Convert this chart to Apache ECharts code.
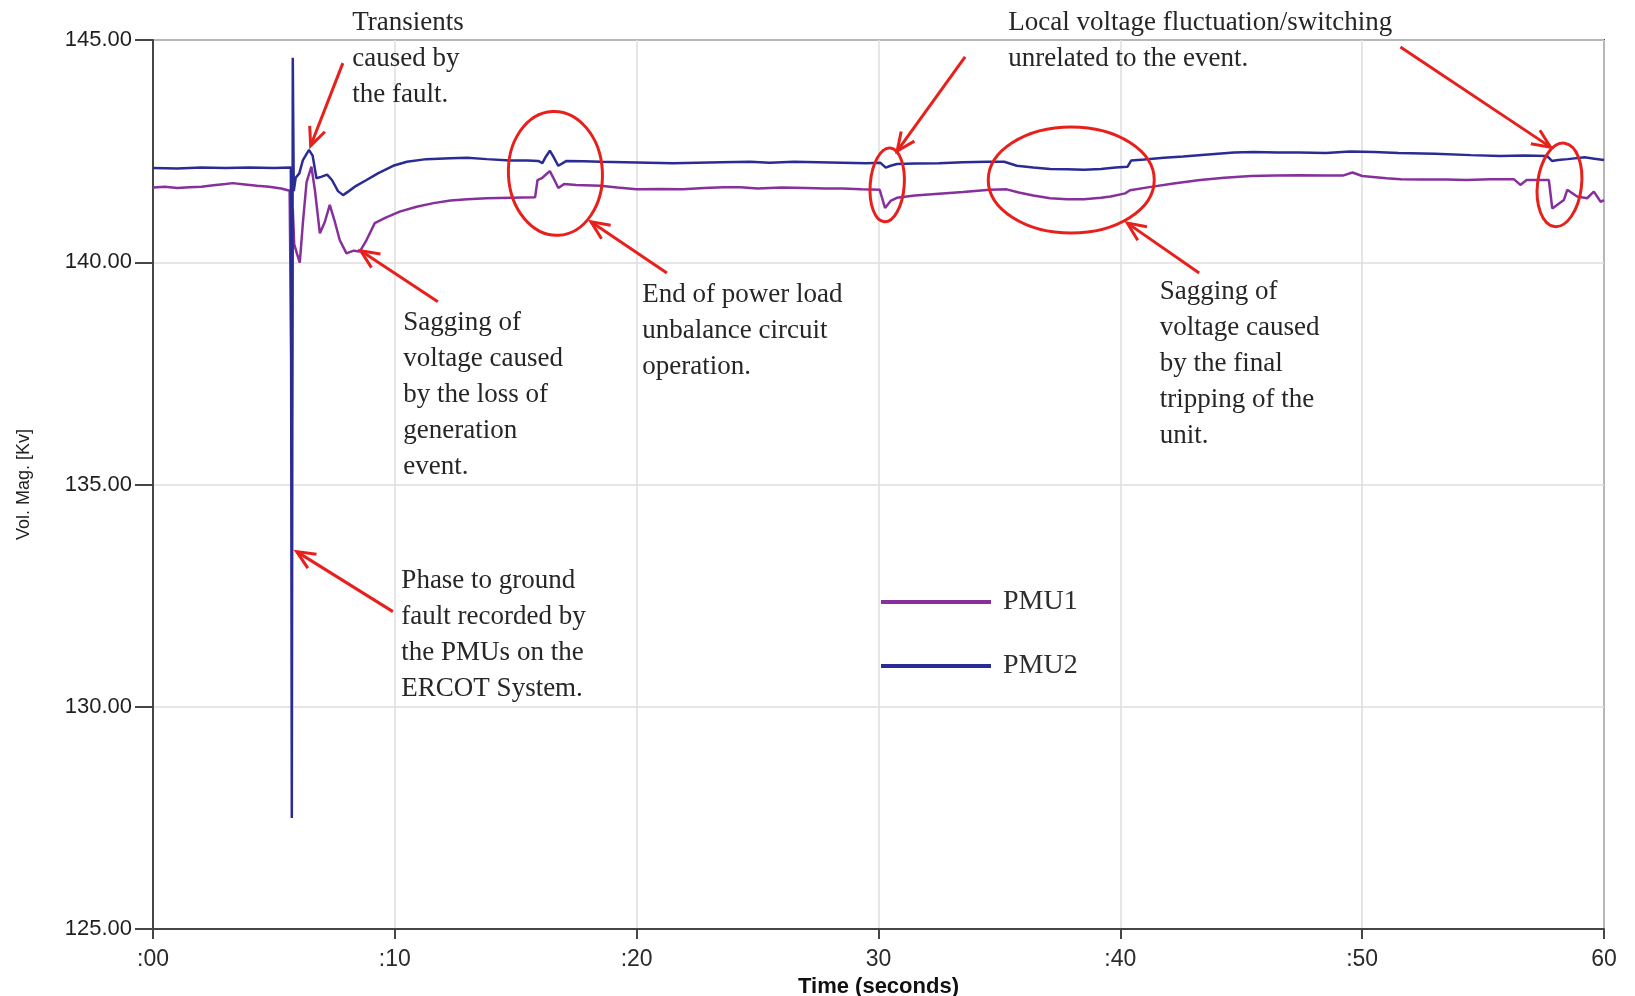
<!DOCTYPE html>
<html>
<head>
<meta charset="utf-8">
<title>PMU voltage magnitude</title>
<script src="https://cdn.jsdelivr.net/npm/echarts@6/dist/echarts.min.js"></script>
<style>
  html, body { margin: 0; padding: 0; background: #fff; }
  #chart { width: 1635px; height: 996px; }
</style>
</head>
<body>
<div id="chart"></div>
<script>
// Voltage magnitude (kV) recorded by two PMUs over one minute
const xTickLabels = [':00', ':10', ':20', '30', ':40', ':50', '60'];
const yTickLabels = ['125.00', '130.00', '135.00', '140.00', '145.00'];

const pmu1Time = [0.0, 0.5, 1.0, 1.5, 2.0, 2.5, 3.0, 3.3, 3.8, 4.3, 4.8, 5.3, 5.65, 5.74, 5.78, 5.84, 5.95, 6.07, 6.2, 6.35,
  6.55, 6.7, 6.9, 7.1, 7.31, 7.5, 7.72, 8.0, 8.3, 8.55, 8.83, 9.17, 9.6, 10.2, 10.9, 11.6, 12.3, 13.0, 13.8, 14.8,
  15.8, 15.9, 16.1, 16.41, 16.6, 16.76, 17.0, 17.5, 18.5, 19.2, 20.0, 21.0, 21.9, 22.8, 23.6, 24.3, 25.0, 26.0, 27.0, 27.8,
  28.5, 29.3, 30.05, 30.27, 30.5, 30.76, 31.5, 32.5, 33.5, 34.6, 35.3, 35.8, 36.4, 37.1, 37.8, 38.5, 39.2, 39.6, 40.2, 40.4,
  41.2, 42.2, 43.3, 44.3, 45.4, 46.4, 47.4, 48.5, 49.2, 49.6, 50.0, 51.0, 51.6, 52.5, 53.5, 54.3, 55.3, 56.27, 56.54, 56.8,
  57.72, 57.86, 58.34, 58.48, 58.89, 59.3, 59.58, 59.86, 60.0];
const pmu1Kv = [141.68, 141.70, 141.67, 141.69, 141.70, 141.73, 141.76, 141.78, 141.75, 141.72, 141.70, 141.66, 141.61, 136.5, 141.2, 140.4, 140.2, 139.99, 140.9, 141.8,
  142.15, 141.6, 140.65, 140.9, 141.29, 140.95, 140.5, 140.2, 140.26, 140.24, 140.5, 140.88, 141.0, 141.14, 141.25, 141.33, 141.39, 141.42, 141.44, 141.45,
  141.46, 141.85, 141.9, 142.05, 141.85, 141.67, 141.76, 141.74, 141.72, 141.68, 141.64, 141.65, 141.64, 141.67, 141.69, 141.69, 141.66, 141.68, 141.67, 141.66,
  141.66, 141.64, 141.63, 141.22, 141.38, 141.45, 141.50, 141.54, 141.58, 141.63, 141.64, 141.57, 141.50, 141.44, 141.42, 141.42, 141.45, 141.48, 141.55, 141.62,
  141.69, 141.77, 141.85, 141.90, 141.94, 141.95, 141.96, 141.95, 141.95, 142.02, 141.94, 141.89, 141.87, 141.86, 141.86, 141.85, 141.87, 141.87, 141.74, 141.85,
  141.85, 141.21, 141.40, 141.63, 141.48, 141.44, 141.59, 141.36, 141.40];

const pmu2Time = [0.0, 1.0, 2.0, 3.0, 4.0, 5.0, 5.7, 5.74, 5.78, 5.82, 5.9, 6.05, 6.2, 6.45, 6.6, 6.76, 6.95, 7.2, 7.4, 7.65,
  7.86, 8.1, 8.4, 8.83, 9.3, 9.93, 10.5, 11.3, 12.3, 13.0, 13.8, 14.76, 15.5, 15.93, 16.1, 16.25, 16.41, 16.55, 16.76, 17.1,
  17.8, 18.5, 19.5, 20.5, 21.5, 22.5, 23.5, 24.7, 25.5, 26.5, 27.5, 28.5, 29.5, 30.07, 30.3, 30.5, 30.76, 31.5, 32.5, 33.5,
  34.5, 35.2, 35.72, 36.4, 37.1, 37.8, 38.5, 39.2, 39.8, 40.3, 40.45, 41.0, 41.8, 42.6, 43.5, 44.7, 45.5, 46.5, 47.4, 48.5,
  49.5, 50.5, 51.5, 53.0, 54.5, 55.7, 56.7, 57.65, 57.85, 58.1, 58.5, 59.2, 59.6, 60.0];
const pmu2Kv = [142.12, 142.11, 142.13, 142.12, 142.13, 142.12, 142.13, 127.5, 144.6, 141.6, 141.9, 142.0, 142.3, 142.53, 142.4, 141.89, 141.92, 141.97, 141.85, 141.6,
  141.51, 141.6, 141.72, 141.85, 142.0, 142.17, 142.26, 142.32, 142.34, 142.35, 142.32, 142.29, 142.29, 142.28, 142.23, 142.38, 142.51, 142.38, 142.17, 142.28,
  142.27, 142.26, 142.25, 142.24, 142.23, 142.24, 142.25, 142.26, 142.24, 142.26, 142.25, 142.24, 142.23, 142.24, 142.13, 142.17, 142.21, 142.22, 142.23, 142.25,
  142.26, 142.26, 142.17, 142.13, 142.10, 142.09, 142.08, 142.10, 142.13, 142.15, 142.29, 142.31, 142.35, 142.38, 142.42, 142.47, 142.48, 142.47, 142.47, 142.46,
  142.49, 142.48, 142.46, 142.44, 142.41, 142.39, 142.40, 142.39, 142.28, 142.30, 142.32, 142.36, 142.33, 142.30];

const PMU1_COLOR = '#87309b';
const PMU2_COLOR = '#2b2b96';
const NOTE_RED = '#e8201c';
const NOTE_FONT = '"Liberation Serif", "Times New Roman", serif';
const SANS = '"Liberation Sans", Arial, sans-serif';

// Callouts, anchored in (seconds, kV) space
const notes = [
  { at: [8.24, 145.38], text: 'Transients\ncaused by\nthe fault.' },
  { at: [35.37, 145.38], text: 'Local voltage fluctuation/switching\nunrelated to the event.' },
  { at: [10.35, 138.63], text: 'Sagging of\nvoltage caused\nby the loss of\ngeneration\nevent.' },
  { at: [20.23, 139.26], text: 'End of power load\nunbalance circuit\noperation.' },
  { at: [41.63, 139.33], text: 'Sagging of\nvoltage caused\nby the final\ntripping of the\nunit.' },
  { at: [10.27, 132.84], text: 'Phase to ground\nfault recorded by\nthe PMUs on the\nERCOT System.' }
];
const arrows = [
  { from: [7.85, 144.48], to: [6.52, 142.62] },
  { from: [11.78, 139.11], to: [8.59, 140.26] },
  { from: [21.25, 139.76], to: [18.11, 140.91] },
  { from: [33.58, 144.62], to: [30.77, 142.50] },
  { from: [51.58, 144.84], to: [57.79, 142.59] },
  { from: [43.26, 139.76], to: [40.29, 140.88] },
  { from: [9.92, 132.14], to: [5.94, 133.49] }
];
const rings = [
  { at: [16.64, 142.00], rx: 47, ry: 62, tilt: 0.05 },
  { at: [30.36, 141.74], rx: 17, ry: 37, tilt: -0.08 },
  { at: [37.97, 141.85], rx: 83, ry: 53, tilt: 0 },
  { at: [58.16, 141.74], rx: 22, ry: 42, tilt: -0.12 }
];

const zip = (t, v) => t.map((x, i) => [x, v[i]]);

const chart = echarts.init(document.getElementById('chart'), null, { renderer: 'canvas' });

chart.setOption({
  animation: false,
  backgroundColor: '#ffffff',
  grid: {
    left: 153, right: 31, top: 40, bottom: 67,
    outerBoundsMode: 'none',
    show: true, borderColor: '#454545', borderWidth: 2, backgroundColor: '#ffffff'
  },
  legend: {
    data: ['PMU1', 'PMU2'],
    orient: 'vertical',
    left: 881, top: 588,
    padding: 0,
    icon: 'rect',
    itemWidth: 110, itemHeight: 4,
    itemGap: 36,
    textStyle: { fontFamily: NOTE_FONT, fontSize: 28, color: '#2e2e2e', lineHeight: 28, padding: [0, 0, 0, 7] }
  },
  xAxis: {
    type: 'value', min: 0, max: 60, interval: 10,
    name: 'Time (seconds)', nameLocation: 'middle', nameGap: 39,
    nameTextStyle: { fontFamily: SANS, fontSize: 22, fontWeight: 'bold', color: '#111' },
    axisLine: { lineStyle: { color: '#454545', width: 2 } },
    axisTick: { show: true, length: 10, lineStyle: { color: '#454545', width: 2 } },
    axisLabel: {
      margin: 19, fontFamily: SANS, fontSize: 23, color: '#2a2a2a',
      formatter: v => xTickLabels[Math.round(v / 10)]
    },
    splitLine: { show: true, lineStyle: { color: '#dedede', width: 1.5 } }
  },
  yAxis: {
    type: 'value', min: 125, max: 145, interval: 5,
    name: 'Vol. Mag. [Kv]', nameLocation: 'middle', nameGap: 120, nameRotate: 90,
    nameTextStyle: { fontFamily: SANS, fontSize: 18, color: '#222' },
    axisLine: { show: true, lineStyle: { color: '#454545', width: 2 } },
    axisTick: { show: true, length: 18, lineStyle: { color: '#454545', width: 2 } },
    axisLabel: {
      margin: 21, fontFamily: SANS, fontSize: 22, color: '#1e1e1e',
      formatter: v => yTickLabels[Math.round((v - 125) / 5)]
    },
    splitLine: { show: true, lineStyle: { color: '#dedede', width: 1.5 } }
  },
  series: [
    {
      name: 'PMU1', type: 'line', showSymbol: false, symbol: 'none',
      data: zip(pmu1Time, pmu1Kv),
      itemStyle: { color: PMU1_COLOR },
      lineStyle: { color: PMU1_COLOR, width: 2.5 }
    },
    {
      name: 'PMU2', type: 'line', showSymbol: false, symbol: 'none',
      data: zip(pmu2Time, pmu2Kv),
      itemStyle: { color: PMU2_COLOR },
      lineStyle: { color: PMU2_COLOR, width: 2.5 }
    }
  ]
});

// Red callout layer: text blocks, arrows and rings placed through the axes
function buildCallouts() {
  const px = p => chart.convertToPixel({ gridIndex: 0 }, p);
  const els = [];
  const LINE_H = 36;
  notes.forEach(n => {
    const [x, y] = px(n.at);
    els.push({
      type: 'text', x: x, y: y - LINE_H / 2, z: 100,
      style: {
        text: n.text, fill: '#262626', fontFamily: NOTE_FONT, fontSize: 27,
        lineHeight: LINE_H, align: 'left', verticalAlign: 'top'
      }
    });
  });
  arrows.forEach(a => {
    const [x1, y1] = px(a.from);
    const [x2, y2] = px(a.to);
    const ang = Math.atan2(y2 - y1, x2 - x1);
    const L = 20, spread = 0.42;
    const h1 = [x2 - L * Math.cos(ang - spread), y2 - L * Math.sin(ang - spread)];
    const h2 = [x2 - L * Math.cos(ang + spread), y2 - L * Math.sin(ang + spread)];
    els.push({ type: 'line', z: 100, shape: { x1, y1, x2, y2 }, style: { stroke: NOTE_RED, lineWidth: 3 } });
    els.push({ type: 'polyline', z: 100, shape: { points: [h1, [x2, y2], h2] }, style: { stroke: NOTE_RED, lineWidth: 3, fill: null } });
  });
  rings.forEach(r => {
    const [cx, cy] = px(r.at);
    els.push({
      type: 'ellipse', z: 100, x: cx, y: cy, rotation: r.tilt,
      shape: { cx: 0, cy: 0, rx: r.rx, ry: r.ry },
      style: { stroke: NOTE_RED, lineWidth: 3, fill: null }
    });
  });
  chart.setOption({ graphic: { elements: els } });
}
buildCallouts();
</script>
</body>
</html>
